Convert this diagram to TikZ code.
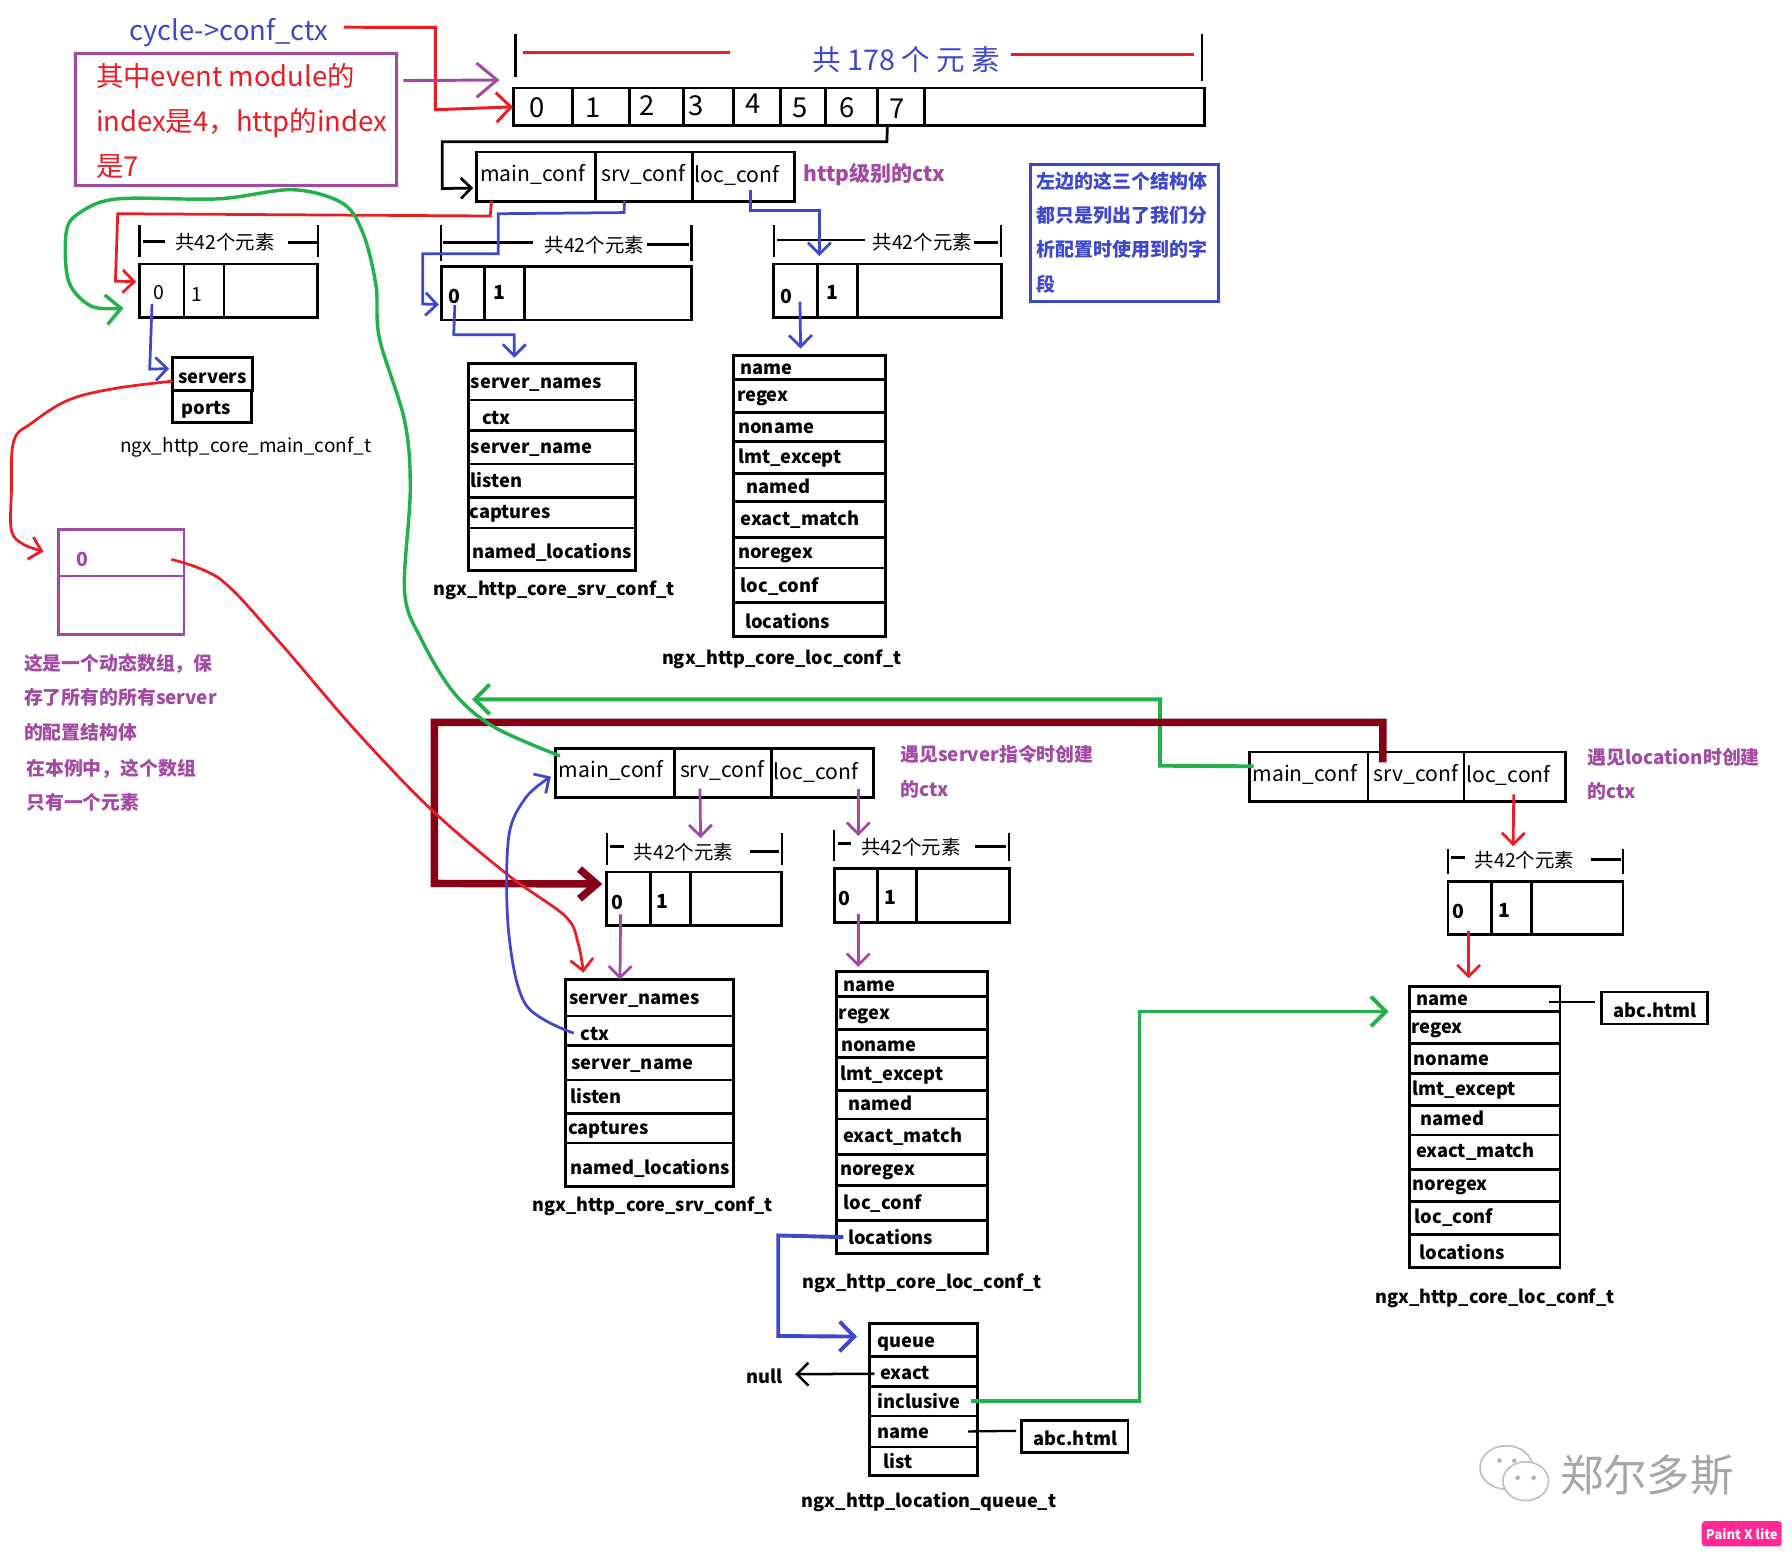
\documentclass[tikz,border=0pt]{standalone}
\usepackage{fontspec}
\setmainfont{Noto Sans CJK SC}
\usetikzlibrary{arrows.meta,calc}
\definecolor{pred}{RGB}{237,28,36}
\definecolor{pblue}{RGB}{63,72,204}
\definecolor{ppur}{RGB}{163,73,164}
\definecolor{pgreen}{RGB}{34,177,76}
\definecolor{pdark}{RGB}{136,0,21}
\tikzset{
 x=1pt,y=-1pt,
 cellbox/.style={draw=black,line width=2.4pt,inner sep=0pt,outer sep=0pt,anchor=north west},
 lbl/.style={inner sep=0pt,outer sep=0pt,anchor=mid west,yshift=-4pt},
 ctxt/.style={inner sep=0pt,outer sep=0pt,anchor=mid,yshift=-4pt},
 rowfont/.style={font=\fontsize{16}{20}\selectfont\bfseries},
 confont/.style={font=\fontsize{18.5}{24}\selectfont,yshift=-1pt},
 bigfont/.style={font=\fontsize{24}{28}\selectfont,yshift=-3pt},
 numfont/.style={font=\fontsize{17}{20}\selectfont},
 boldnum/.style={font=\fontsize{17}{20}\selectfont\bfseries},
 countfont/.style={font=\fontsize{17}{20}\selectfont},
 titlefont/.style={font=\fontsize{15.8}{20}\selectfont\bfseries},
 notefont/.style={font=\fontsize{16.5}{20}\selectfont\bfseries,text=ppur},
 bar/.style={draw=black,line width=2pt},
 stub/.style={draw=black,line width=2.4pt},
 tipS/.style={-{Straight Barb[length=10pt,width=20pt]}},
 tipM/.style={-{Straight Barb[length=13pt,width=26pt]}},
 tipL/.style={-{Straight Barb[length=18pt,width=30pt]}},
 thinred/.style={draw=pred,line width=2.4pt},
 thinblue/.style={draw=pblue,line width=2.4pt},
 thinpur/.style={draw=ppur,line width=2.4pt},
 thickgreen/.style={draw=pgreen,line width=3.4pt},
 curvegreen/.style={draw=pgreen,line width=3pt},
}
% name x0 y0 x1 y1 textx texty text
\newcommand{\rowcell}[8]{%
 \node[cellbox,minimum width={(#4)-(#2)},minimum height={(#5)-(#3)}] (#1) at (#2,#3) {};
 \node[lbl,rowfont] (#1-t) at (#6,#7) {#8};}
% conf triple: prefix x0 x1 x2 x3 y0
\newcommand{\conftriple}[6]{%
 \node[cellbox,minimum width={(#3)-(#2)},minimum height=43] (#1m) at (#2,#6) {};
 \node[cellbox,minimum width={(#4)-(#3)},minimum height=43] (#1s) at (#3,#6) {};
 \node[cellbox,minimum width={(#5)-(#4)},minimum height=43] (#1l) at (#4,#6) {};
 \node[lbl,confont] (#1m-t) at (#2+3,#6+18) {main\_conf};
 \node[lbl,confont] (#1s-t) at (#3+5,#6+18) {srv\_conf};
 \node[lbl,confont] (#1l-t) at (#4+2,#6+19) {loc\_conf};}
% array: prefix x0 d1 d2 x1 y0 y1
\newcommand{\arraybox}[7]{%
 \node[cellbox,minimum width={(#3)-(#2)},minimum height={(#7)-(#6)}] (#1a) at (#2,#6) {};
 \node[cellbox,minimum width={(#4)-(#3)},minimum height={(#7)-(#6)}] (#1b) at (#3,#6) {};
 \node[cellbox,minimum width={(#5)-(#4)},minimum height={(#7)-(#6)}] (#1c) at (#4,#6) {};}
\begin{document}
\begin{tikzpicture}
\fill[white] (0,0) rectangle (1568,1359.7);
\useasboundingbox (0,0) rectangle (1568,1359.7);

%% top array
\node[cellbox,minimum width=52,minimum height=33] (t0) at (449,77) {};
\node[cellbox,minimum width=50,minimum height=33] (t1) at (501,77) {};
\node[cellbox,minimum width=47,minimum height=33] (t2) at (551,77) {};
\node[cellbox,minimum width=44,minimum height=33] (t3) at (598,77) {};
\node[cellbox,minimum width=41,minimum height=33] (t4) at (642,77) {};
\node[cellbox,minimum width=39,minimum height=33] (t5) at (683,77) {};
\node[cellbox,minimum width=46,minimum height=33] (t6) at (722,77) {};
\node[cellbox,minimum width=41,minimum height=33] (t7) at (768,77) {};
\node[cellbox,minimum width=245,minimum height=33] (t8) at (809,77) {};
\foreach \n/\px/\py/\s in {0/470/93/0,1/519/93/1,2/566/91/2,3/609/91/3,4/659/90/4,5/700/93/5,6/741/93/6,7/785/94/7}
  \node[ctxt,bigfont] (tn\n) at (\px,\py) {\s};

\draw[line width=2pt,black] (451,30) -- (451,67);
\draw[line width=2pt,black] (1052,30) -- (1052,71);
\draw[thinred] (458,46) -- (639,46);
\draw[thinred] (885,48) -- (1045,48);
\node[ctxt,bigfont,text=pblue,font=\fontsize{25}{28}\selectfont] (count178) at (793,52) {共 178 个 元 素};

\node[ctxt,bigfont,text=pblue] (cyc) at (200,26) {cycle->conf\_ctx};
\node[draw=ppur,line width=2.6pt,inner sep=0,outer sep=0,minimum width=281,minimum height=115,anchor=north west] (note) at (66,47) {};
\node[lbl,bigfont,text=pred] (n1) at (84,66) {其中event module的};
\node[lbl,bigfont,text=pred] (n2) at (84,105) {index是4，http的index};
\node[lbl,bigfont,text=pred] (n3) at (84,145) {是7};

\draw[thinred,line width=2.6pt,tipM] ([xshift=14pt]cyc.east) ++(0,-5) -- (381,24) -- (381,96) -- (t0.west);
\draw[thinpur,line width=2.6pt,tipL] ([xshift=6pt,yshift=34pt]note.east) -- (437,70);

%% http conf
\conftriple{h}{417}{521}{606}{695}{133}
\node[lbl,text=ppur,font=\fontsize{18.4}{24}\selectfont\bfseries] (httpctx) at (703,152) {http级别的ctx};
\draw[black,line width=2.4pt,-{Straight Barb[length=9pt,width=18pt]}] ([xshift=-12pt]t7.south) -- (776,124) -- (387,124) -- (387,165) -- ([xshift=-3pt,yshift=-10pt]hm.west);

\node[draw=pblue,line width=2.6pt,inner sep=0,outer sep=0,minimum width=164,minimum height=120,anchor=north west] (bluenote) at (902,144) {};
\foreach \k/\yy/\s in {a/158/左边的这三个结构体,b/188/都只是列出了我们分,c/218/析配置时使用到的字,d/248/段}
  \node[lbl,text=pblue,font=\fontsize{16.6}{20}\selectfont\bfseries] (bn\k) at (907,\yy) {\s};

%% array A
\arraybox{A}{122}{161}{196}{278}{231}{278}
\node[ctxt,numfont] (A0) at (139,255) {0};
\node[ctxt,numfont] (A1) at (172,257) {1};
\draw[bar] (122,197) -- (122,225); \draw[bar] (278,197) -- (278,225);
\draw[stub] (125,211) -- (144,211); \draw[stub] (252,212) -- (277,212);
\node[ctxt,countfont] (Ac) at (197,212) {共42个元素};

\rowcell{sv}{151}{313}{221}{342}{156}{329}{servers}
\rowcell{pt}{151}{342}{220}{370}{159}{356}{ports}
\node[ctxt,font=\fontsize{16.6}{20}\selectfont] (mainlab) at (215,389) {ngx\_http\_core\_main\_conf\_t};
\draw[thinblue,tipS] ([xshift=-6pt,yshift=-4pt]A0.south) -- (131,323) -- ([xshift=-3pt,yshift=5pt]sv.west);

%% red main_conf -> A
\draw[thinred,tipS] ([xshift=-39pt]hm.south) -- (429,189) -- (103,187) -- (101,246) -- ([xshift=-3pt,yshift=8pt]Aa.west);

%% array B
\arraybox{B}{386}{424}{459}{605}{233}{280}
\node[ctxt,boldnum] (B0) at (398,259) {0};
\node[ctxt,boldnum] (B1) at (437,255) {1};
\draw[bar] (386,197) -- (386,228); \draw[bar] (605,197) -- (605,228);
\draw[stub] (388,212) -- (466,212); \draw[stub] (566,214) -- (603,214);
\node[ctxt,countfont] (Bc) at (520,214) {共42个元素};
\draw[thinblue,tipS] ([xshift=-17pt]hs.south) -- (546,186) -- (436,187) -- (436,222) -- (370,222) -- (370,266) -- ([xshift=-2pt,yshift=-10pt]Ba.west);

\rowcell{s1}{410}{318}{556}{350}{412}{333}{server\_names}
\rowcell{s2}{410}{350}{556}{377}{422}{365}{ctx}
\rowcell{s3}{410}{377}{556}{406}{412}{390}{server\_name}
\rowcell{s4}{410}{406}{556}{435}{412}{420}{listen}
\rowcell{s5}{410}{435}{556}{462}{411}{447}{captures}
\rowcell{s6}{410}{462}{556}{499}{413}{482}{named\_locations}
\node[ctxt,titlefont] (srvlab) at (485,514) {ngx\_http\_core\_srv\_conf\_t};
\draw[thinblue,tipS] ([yshift=-1pt]B0.south) -- (397,293) -- (450,293) -- ([xshift=-33pt,yshift=5pt]s1.north);

%% array C
\arraybox{C}{677}{715}{750}{876}{231}{278}
\node[ctxt,boldnum] (C0) at (688,259) {0};
\node[ctxt,boldnum] (C1) at (728,255) {1};
\draw[bar] (677,197) -- (677,225); \draw[bar] (876,197) -- (876,225);
\draw[stub] (680,210) -- (757,210); \draw[stub] (852,212) -- (873,212);
\node[ctxt,countfont] (Cc) at (807,212) {共42个元素};
\draw[thinblue,tipS] ([xshift=51pt,yshift=10pt]hl.south west) -- (657,184) -- (717,184) -- ([xshift=21pt,yshift=7pt]Ca.north);

%% loc table 1
\rowcell{a1}{642}{311}{775}{332}{648}{321}{name}
\rowcell{a2}{642}{332}{775}{361}{645}{345}{regex}
\rowcell{a3}{642}{361}{775}{386}{646}{373}{noname}
\rowcell{a4}{642}{386}{775}{414}{646}{399}{lmt\_except}
\rowcell{a5}{642}{414}{775}{439}{653}{425}{named}
\rowcell{a6}{642}{439}{775}{470}{648}{453}{exact\_match}
\rowcell{a7}{642}{470}{775}{497}{646}{482}{noregex}
\rowcell{a8}{642}{497}{775}{527}{648}{512}{loc\_conf}
\rowcell{a9}{642}{527}{775}{557}{652}{543}{locations}
\node[ctxt,titlefont] (loclab1) at (684,575) {ngx\_http\_core\_loc\_conf\_t};
\draw[thinblue,tipS] ([xshift=4pt,yshift=14pt]Ca.south) -- ([xshift=-8pt,yshift=6pt]a1.north);

%% dynamic array
\node[draw=ppur,line width=2.4pt,inner sep=0,outer sep=0,minimum width=110,minimum height=41,anchor=north west] (d0) at (51,463) {};
\node[draw=ppur,line width=2.4pt,inner sep=0,outer sep=0,minimum width=110,minimum height=51,anchor=north west] (d1) at (51,504) {};
\node[ctxt,text=ppur,font=\fontsize{17}{20}\selectfont\bfseries] (d0t) at (72,489) {0};
\node[lbl,notefont] (m1) at (21,580) {这是一个动态数组，保};
\node[lbl,notefont] (m2) at (21,610) {存了所有的所有server};
\node[lbl,notefont] (m3) at (21,640) {的配置结构体};
\node[lbl,notefont] (m4) at (23,672) {在本例中，这个数组};
\node[lbl,notefont] (m5) at (23,702) {只有一个元素};

\coordinate (rs0) at ([yshift=-6pt]sv.west);
\coordinate (rs1) at ([xshift=-13pt,yshift=1pt]d0.west);
\draw[thinred,tipS] plot[smooth,tension=0.6] coordinates {(rs0) (100,340) (60,350) (28,370) (12,386) (10,430) (10,464) (20,476) (rs1)};

%% lower server conf
\conftriple{q}{486}{590}{675}{764}{655}
\node[lbl,notefont] (qn1) at (788,660) {遇见server指令时创建};
\node[lbl,notefont] (qn2) at (788,690) {的ctx};

\arraybox{D}{531}{569}{604}{684}{763}{810}
\node[ctxt,boldnum] (D0) at (540,789) {0};
\node[ctxt,boldnum] (D1) at (580,788) {1};
\draw[bar] (531,729) -- (531,757); \draw[bar] (684,729) -- (684,757);
\draw[stub] (534,741) -- (546,741); \draw[stub] (656,745) -- (682,745);
\node[ctxt,countfont] (Dc) at (598,745) {共42个元素};

\arraybox{E}{730}{768}{802}{883}{760}{807}
\node[ctxt,boldnum] (E0) at (739,786) {0};
\node[ctxt,boldnum] (E1) at (779,785) {1};
\draw[bar] (730,726) -- (730,753); \draw[bar] (883,729) -- (883,753);
\draw[stub] (733,738) -- (745,738); \draw[stub] (853,741) -- (880,741);
\node[ctxt,countfont] (Ec) at (797,741) {共42个元素};

\draw[thinpur,tipS] ([xshift=-20pt,yshift=8pt]qs.south) -- ([xshift=15pt,yshift=4pt]Dc.north);
\draw[thinpur,tipS] ([xshift=76pt,yshift=8pt]ql.south west) -- ([xshift=-46pt,yshift=2pt]Ec.north);

\rowcell{u1}{495}{857}{642}{889}{498}{872}{server\_names}
\rowcell{u2}{495}{889}{642}{915}{508}{904}{ctx}
\rowcell{u3}{495}{915}{642}{945}{500}{929}{server\_name}
\rowcell{u4}{495}{945}{642}{974}{499}{959}{listen}
\rowcell{u5}{495}{974}{642}{1000}{497}{986}{captures}
\rowcell{u6}{495}{1000}{642}{1038}{499}{1021}{named\_locations}
\node[ctxt,titlefont] (srvlab2) at (571,1053) {ngx\_http\_core\_srv\_conf\_t};
\draw[thinpur,tipS] ([xshift=-7pt,yshift=10pt]Da.south) -- ([xshift=-26pt]u1.north);

\rowcell{b1}{732}{850}{864}{872}{738}{861}{name}
\rowcell{b2}{732}{872}{864}{901}{734}{885}{regex}
\rowcell{b3}{732}{901}{864}{925}{736}{913}{noname}
\rowcell{b4}{732}{925}{864}{954}{735}{939}{lmt\_except}
\rowcell{b5}{732}{954}{864}{979}{742}{965}{named}
\rowcell{b6}{732}{979}{864}{1010}{738}{993}{exact\_match}
\rowcell{b7}{732}{1010}{864}{1037}{735}{1022}{noregex}
\rowcell{b8}{732}{1037}{864}{1068}{738}{1052}{loc\_conf}
\rowcell{b9}{732}{1068}{864}{1097}{742}{1082}{locations}
\node[ctxt,titlefont] (loclab2) at (807,1121) {ngx\_http\_core\_loc\_conf\_t};
\draw[thinpur,tipS] ([xshift=2pt,yshift=7pt]Ea.south) -- ([xshift=-47pt,yshift=4pt]b1.north);

%% queue
\rowcell{c1}{761}{1158}{855}{1187}{768}{1172}{queue}
\rowcell{c2}{761}{1187}{855}{1213}{770}{1200}{exact}
\rowcell{c3}{761}{1213}{855}{1239}{768}{1226}{inclusive}
\rowcell{c4}{761}{1239}{855}{1266}{768}{1252}{name}
\rowcell{c5}{761}{1266}{855}{1291}{773}{1278}{list}
\node[ctxt,titlefont] (qlab) at (813,1312) {ngx\_http\_location\_queue\_t};
\node[ctxt,rowfont] (nulln) at (669,1204) {null};
\draw[black,line width=2.2pt,tipS] ([xshift=4pt,yshift=-2pt]c2.west) -- ([xshift=11pt,yshift=2pt]nulln.east);
\node[cellbox,minimum width=93,minimum height=28] (abc1) at (894,1243) {};
\node[ctxt,rowfont] (abc1t) at (941,1258) {abc.html};
\draw[black,line width=2pt] ([xshift=-8pt]c4.east) -- ([xshift=-5pt,yshift=5pt]abc1.west);
\draw[draw=pblue,line width=3.4pt,tipM] ([xshift=6pt]b9.west) -- (681,1081) -- (681,1169) -- ([xshift=-11pt,yshift=3pt]c1.west);

%% right conf
\conftriple{r}{1093}{1197}{1281}{1370}{658}
\node[lbl,notefont] (rn1) at (1389,662) {遇见location时创建};
\node[lbl,notefont] (rn2) at (1389,692) {的ctx};
\arraybox{F}{1267}{1305}{1340}{1420}{771}{818}
\node[ctxt,boldnum] (F0) at (1276,797) {0};
\node[ctxt,boldnum] (F1) at (1316,796) {1};
\draw[bar] (1267,743) -- (1267,765); \draw[bar] (1420,743) -- (1420,765);
\draw[stub] (1270,750) -- (1282,750); \draw[stub] (1392,752) -- (1418,752);
\node[ctxt,countfont] (Fc) at (1334,752) {共42个元素};
\draw[thinred,tipS] ([xshift=-1pt,yshift=6pt]rl.south) -- ([xshift=-10pt,yshift=4pt]Fc.north);

\rowcell{g1}{1233}{863}{1365}{885}{1239}{873}{name}
\rowcell{g2}{1233}{885}{1365}{913}{1235}{898}{regex}
\rowcell{g3}{1233}{913}{1365}{939}{1237}{926}{noname}
\rowcell{g4}{1233}{939}{1365}{967}{1236}{952}{lmt\_except}
\rowcell{g5}{1233}{967}{1365}{993}{1243}{978}{named}
\rowcell{g6}{1233}{993}{1365}{1023}{1239}{1006}{exact\_match}
\rowcell{g7}{1233}{1023}{1365}{1051}{1236}{1035}{noregex}
\rowcell{g8}{1233}{1051}{1365}{1080}{1238}{1064}{loc\_conf}
\rowcell{g9}{1233}{1080}{1365}{1109}{1242}{1095}{locations}
\node[ctxt,titlefont] (loclab3) at (1308,1134) {ngx\_http\_core\_loc\_conf\_t};
\node[cellbox,minimum width=93,minimum height=28] (abc2) at (1401,868) {};
\node[ctxt,rowfont] (abc2t) at (1448,884) {abc.html};
\draw[black,line width=2pt] ([xshift=-10pt,yshift=-3pt]g1.east) -- ([xshift=-5pt,yshift=5pt]abc2.west);
\draw[thinred,tipS] ([xshift=-1pt,yshift=3pt]Fa.south) -- ([xshift=-14pt,yshift=7pt]g1.north);
\draw[thickgreen,tipM] ([xshift=-5pt]c3.east) -- (997,1226) -- (997,885) -- ([xshift=-18pt,yshift=-11pt]g1.west);

%% long connectors
\draw[draw=pgreen,line width=3.4pt,tipM] ([xshift=4pt,yshift=9pt]rm.west) -- (1015,670) -- (1015,612) -- (413,612);
\draw[draw=pdark,line width=6.5pt,-{Straight Barb[length=15pt,width=26pt]}] ([xshift=-71pt,yshift=-9pt]rs.north east) -- (1210,632) -- (380,632) -- (380,773) -- ([xshift=-4pt,yshift=13pt]Da.west);

\coordinate (gs) at ([xshift=4pt,yshift=15pt]qm.west);
\coordinate (ge) at ([xshift=-14pt,yshift=-15pt]Aa.west);
\draw[curvegreen,tipM] plot[smooth,tension=0.55] coordinates {(gs) (432,636) (397,606) (369,560) (354,518) (359,428) (354,368) (332,296) (329,250) (318,205) (300,178) (256,166) (191,174) (103,174) (70,186) (58,203) (60,246) (80,268) (ge)};

\coordinate (re) at ([xshift=-58pt,yshift=6pt]u1.north);
\coordinate (rb) at ([xshift=-11pt,yshift=-6pt]d0.east);
\draw[thinred,tipS] plot[smooth,tension=0.55] coordinates {(rb) (193,507) (243,560) (310,638) (377,708) (445,766) (495,802) (506,826) (re)};

\coordinate (cs) at ([xshift=7pt,yshift=-2pt]u2.west);
\coordinate (ce) at ([xshift=-4pt,yshift=-3pt]qm.west);
\draw[thinblue,tipS] plot[smooth,tension=0.55] coordinates {(cs) (460,879) (445,815) (445,733) (460,698) (ce)};

%% watermark
\node[ctxt,yshift=-8pt,text=black!35,font=\fontsize{38}{42}\selectfont] (wm) at (1441,1290) {郑尔多斯};
\draw[black!25,line width=1.4pt] (1318,1284) ellipse [x radius=23,y radius=19];
\draw[black!25,line width=1.4pt,fill=white] (1335,1296) ellipse [x radius=20,y radius=17];
\fill[black!30] (1312,1278) circle (2) (1325,1278) circle (2) (1328,1293) circle (2) (1342,1293) circle (2);
\node[fill={rgb,255:red,255;green,40;blue,150},rounded corners=3pt,text=white,font=\fontsize{11.5}{12}\selectfont\bfseries,minimum width=70,minimum height=22,inner sep=0] (badge) at (1524,1342) {Paint X lite};
\end{tikzpicture}
\end{document}
